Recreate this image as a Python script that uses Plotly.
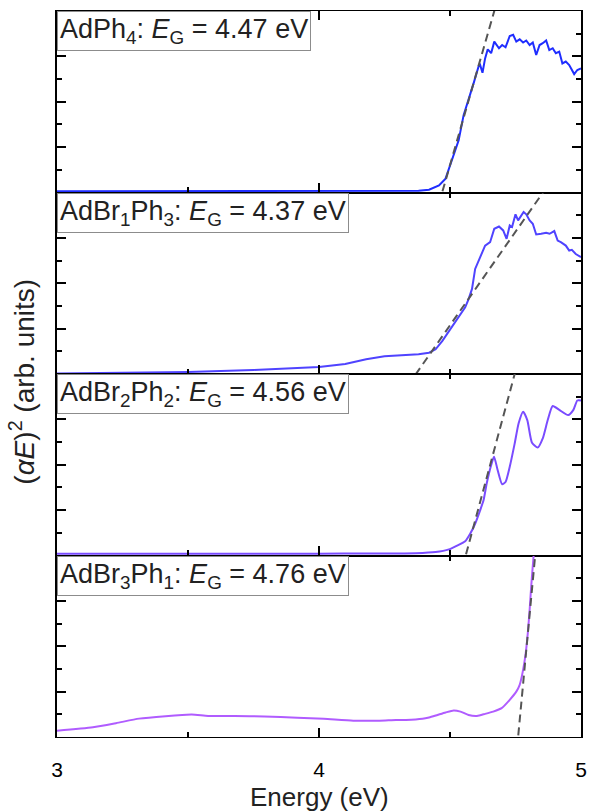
import plotly.graph_objects as go

# Photon energy (eV) and (alpha*E)^2 for each compound, one panel per compound
energy_ph4 = [3.00, 3.50, 4.00, 4.29, 4.38, 4.42, 4.458, 4.483, 4.508, 4.533, 4.552, 4.571, 4.59, 4.609,
              4.615, 4.624, 4.634, 4.644, 4.657, 4.669, 4.687, 4.699, 4.712, 4.728, 4.741, 4.753,
              4.766, 4.779, 4.791, 4.804, 4.816, 4.829, 4.842, 4.854, 4.867, 4.879, 4.892, 4.904,
              4.917, 4.929, 4.942, 4.955, 4.974, 4.986, 5.0]
signal_ph4 = [0.05, 0.05, 0.05, 0.05, 0.08, 0.12, 0.31, 0.61, 1.42, 2.30, 3.41, 4.07, 4.81, 5.55,
              5.62, 5.28, 5.91, 6.31, 6.14, 6.65, 6.36, 6.50, 6.40, 6.90, 6.95, 6.65,
              6.75, 6.61, 6.70, 6.50, 6.61, 6.06, 6.50, 6.58, 6.70, 6.28, 6.36, 6.14,
              6.21, 5.69, 5.77, 5.62, 5.22, 5.40, 5.47]

energy_br1 = [3.0, 3.25, 3.5, 3.75, 4.0, 4.1, 4.18, 4.25, 4.3, 4.38, 4.42, 4.445, 4.471, 4.496,
              4.527, 4.558, 4.571, 4.584, 4.596, 4.609, 4.634, 4.653, 4.669, 4.687, 4.703,
              4.716, 4.728, 4.737, 4.75, 4.76, 4.768, 4.781, 4.791, 4.804, 4.816, 4.829,
              4.848, 4.867, 4.88, 4.898, 4.911, 4.923, 4.942, 4.955, 4.965, 4.98, 5.0]
signal_br1 = [0.02, 0.04, 0.09, 0.18, 0.31, 0.44, 0.65, 0.78, 0.82, 0.87, 0.94, 1.09, 1.46, 1.90,
              2.42, 2.94, 3.30, 3.75, 4.63, 5.0, 5.66, 5.81, 6.40, 6.50, 6.33,
              5.96, 6.55, 6.48, 7.04, 6.77, 6.92, 7.14, 7.04, 6.77, 6.62, 6.15,
              6.18, 6.22, 6.18, 6.30, 5.88, 5.81, 5.66, 5.44, 5.47, 5.29, 5.15]

energy_br2 = [3.0, 3.5, 4.0, 4.2, 4.37, 4.445, 4.496, 4.527, 4.558, 4.577, 4.596, 4.615, 4.628,
              4.64, 4.657, 4.668, 4.682, 4.699, 4.712, 4.728, 4.747, 4.762, 4.779, 4.795,
              4.813, 4.835, 4.854, 4.873, 4.892, 4.917, 4.951, 4.971, 4.986, 5.0]
signal_br2 = [0.08, 0.08, 0.08, 0.09, 0.10, 0.15, 0.27, 0.44, 0.63, 0.96, 1.40, 1.99, 2.43,
              3.17, 3.98, 4.35, 3.76, 3.14, 3.24, 3.91, 4.94, 5.83, 6.34, 5.97,
              4.97, 4.76, 5.16, 5.97, 6.59, 6.42, 6.19, 6.42, 6.83, 6.83]

energy_br3 = [3.0, 3.137, 3.225, 3.313, 3.414, 3.514, 3.577, 3.678, 3.791, 3.917, 4.018, 4.131,
              4.231, 4.294, 4.332, 4.395, 4.42, 4.452, 4.483, 4.514, 4.54, 4.571, 4.603, 4.634,
              4.665, 4.697, 4.728, 4.753, 4.766, 4.779, 4.789, 4.797, 4.804, 4.81, 4.816, 4.822]
signal_br3 = [0.28, 0.43, 0.61, 0.81, 0.92, 0.99, 0.93, 0.93, 0.90, 0.85, 0.80, 0.72,
              0.72, 0.75, 0.75, 0.80, 0.86, 0.97, 1.08, 1.17, 1.12, 0.97, 0.93, 1.02,
              1.12, 1.27, 1.64, 2.0, 2.30, 2.96, 3.70, 4.59, 5.62, 6.65, 7.54, 8.4]

# Tauc fits: band gap (x-intercept) and slope of the linear edge
band_gaps = [4.47, 4.37, 4.56, 4.76]
fit_slopes = [40.2, 16.5, 42.8, 123.0]

panel_labels = [
    "AdPh<sub>4</sub>: <i>E</i><sub>G</sub> = 4.47 eV",
    "AdBr<sub>1</sub>Ph<sub>3</sub>: <i>E</i><sub>G</sub> = 4.37 eV",
    "AdBr<sub>2</sub>Ph<sub>2</sub>: <i>E</i><sub>G</sub> = 4.56 eV",
    "AdBr<sub>3</sub>Ph<sub>1</sub>: <i>E</i><sub>G</sub> = 4.76 eV",
]
colors = ["#1f2dff", "#4f43ff", "#7a4cff", "#b05cff"]
line_shapes = ["linear", "linear", "spline", "spline"]

energies = [energy_ph4, energy_br1, energy_br2, energy_br3]
signals = [signal_ph4, signal_br1, signal_br2, signal_br3]

FONT = "Liberation Sans, Arial, sans-serif"
fig = go.Figure()
layout = {}

for i in range(4):
    n = i + 1
    xa = "x" if n == 1 else f"x{n}"
    ya = "y" if n == 1 else f"y{n}"
    fig.add_trace(go.Scatter(x=energies[i], y=signals[i], mode="lines",
                             line=dict(color=colors[i], width=2, shape=line_shapes[i],
                                       smoothing=0.6),
                             xaxis=xa, yaxis=ya, showlegend=False))
    # linear extrapolation of the absorption edge
    y_lo, y_hi = -0.5, 8.5
    fx = [band_gaps[i] + y_lo / fit_slopes[i], band_gaps[i] + y_hi / fit_slopes[i]]
    fig.add_trace(go.Scatter(x=fx, y=[y_lo, y_hi], mode="lines",
                             line=dict(color="#555555", width=2, dash="8px,5px"),
                             xaxis=xa, yaxis=ya, showlegend=False))

    top = 1 - i * 0.25
    bottom = top - 0.25
    xkey = "xaxis" if n == 1 else f"xaxis{n}"
    ykey = "yaxis" if n == 1 else f"yaxis{n}"
    layout[xkey] = dict(
        range=[3, 5], anchor=ya, showline=True, linecolor="black", linewidth=1.3,
        mirror="ticks", ticks="inside", ticklen=9, tickwidth=1.5, tickcolor="black",
        tickvals=[3, 4, 5], showgrid=False, zeroline=False,
        showticklabels=(n == 4),
        tickfont=dict(family=FONT, size=21, color="black"),
        ticklabelstandoff=14,
        minor=dict(ticks="inside", ticklen=5, tickwidth=1.5, tickcolor="black",
                   tickvals=[3.5, 4.5], showgrid=False),
    )
    if n > 1:
        layout[xkey]["matches"] = "x"
    layout[ykey] = dict(
        domain=[bottom, top], range=[0, 8], anchor=xa, showline=True, linecolor="black",
        linewidth=1.5, mirror="ticks", ticks="inside", ticklen=9, tickwidth=1.5,
        tickcolor="black", tickvals=[2, 4, 6], showticklabels=False, showgrid=False,
        zeroline=False,
        minor=dict(ticks="inside", ticklen=5, tickwidth=1.5, tickcolor="black",
                   tickvals=[1, 3, 5, 7], showgrid=False),
    )

annotations = []
for i in range(4):
    top = 1 - i * 0.25
    annotations.append(dict(
        text=panel_labels[i], xref="paper", yref="paper", x=0.0, y=top,
        xanchor="left", yanchor="top", showarrow=False,
        font=dict(family=FONT, size=27, color="#222222"),
        bgcolor="white", bordercolor="#8c8c8c", borderwidth=1, borderpad=2,
    ))

annotations.append(dict(
    text="(<i>α</i><i>E</i>)<sup>2</sup> (arb. units)", xref="paper", yref="paper",
    x=-0.066, y=0.49, xanchor="center", yanchor="middle", textangle=-90,
    showarrow=False, font=dict(family=FONT, size=28, color="#222222"),
))
annotations.append(dict(
    text="Energy (eV)", xref="paper", yref="paper", x=0.5, y=-0.083,
    xanchor="center", yanchor="middle", showarrow=False,
    font=dict(family=FONT, size=26, color="#222222"),
))

fig.update_layout(
    width=593, height=812,
    margin=dict(l=57, r=6, t=11, b=75),
    plot_bgcolor="white", paper_bgcolor="white",
    annotations=annotations,
    **layout,
)

fig.write_html("out.html")
